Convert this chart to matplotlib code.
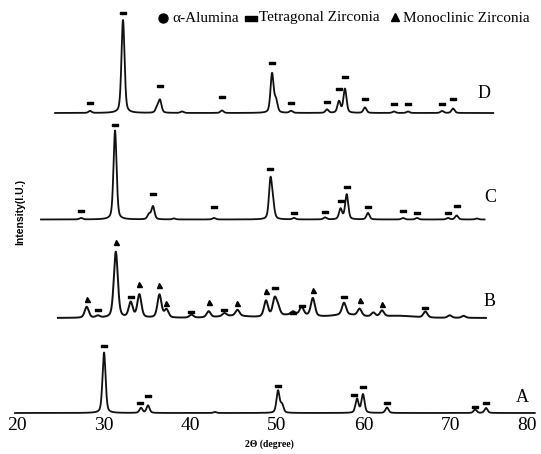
import numpy as np
import matplotlib.pyplot as plt
from matplotlib.path import Path

# XRD peak tables: 2-theta (degree) and height (a.u.)
# sample A
a_pos = [30.05, 34.32, 35.13, 42.86, 50.14, 50.6, 59.26, 59.95, 62.72, 72.9, 74.16]
a_h = [60.5, 5, 7.5, 1, 22, 8, 14, 18.5, 5.5, 3.5, 5]
a_range = [19.77, 79.8]
# sample B
b_pos = [28.05, 29.33, 31.41, 33.13, 34.13, 36.45, 37.26, 40.14, 42.13, 43.95, 45.46,
         48.75, 49.75, 50.14, 51.87, 52.87, 54.16, 57.76, 59.56, 61.15, 62.15, 67.16,
         69.97, 71.57]
b_h = [11, 2, 66, 15, 23, 23, 8, 3, 6, 3, 6, 16, 17, 8, 3, 8, 18, 12, 7, 4, 6, 6, 2.5, 2]
b_back_pos = [45, 52, 58, 64]
b_back_h = [2, 3, 3, 2]
b_range = [24.73, 74.16]
# sample C
c_pos = [27.39, 31.32, 35.24, 35.7, 38.13, 42.75, 49.27, 49.56, 51.99, 55.57, 57.36,
         58.07, 60.53, 64.57, 66.19, 69.77, 70.76, 73.1]
c_h = [1.5, 89, 5, 13, 1, 1.5, 39, 12, 1.5, 2, 10.5, 25, 6.5, 1.5, 1.5, 1.5, 4, 1]
c_range = [22.77, 74.0]
# sample D
d_pos = [28.43, 32.24, 36.17, 36.51, 39.05, 43.67, 49.45, 49.9, 51.64, 55.8, 57.18,
         57.87, 60.18, 63.53, 65.15, 69.08, 70.35]
d_h = [2, 93, 5, 12.5, 1.5, 2.5, 39, 12, 2, 3.5, 11.5, 24, 5.5, 1.5, 1.5, 2, 4.5]
d_range = [24.4, 75.0]

# phase markers: position, height above baseline
a_tet_x = [30.05, 34.2, 35.13, 50.14, 58.9, 59.95, 62.72, 72.9, 74.16]
a_tet_y = [67.5, 10.5, 17.5, 27.5, 18.5, 26.5, 10.5, 6.5, 10.5]
b_tet_x = [29.33, 33.13, 40.14, 43.95, 49.75, 51.87, 52.87, 57.76, 67.16]
b_tet_y = [8, 21, 6, 8, 30, 5, 12, 21, 10]
b_mono_x = [28.05, 31.41, 34.13, 36.45, 37.26, 42.13, 45.46, 48.75, 54.16, 59.56, 62.15]
b_mono_y = [19, 76, 34, 33, 15, 16, 15, 27, 28, 18, 14]
c_tet_x = [27.39, 31.32, 35.7, 42.75, 49.27, 51.99, 55.57, 57.36, 58.07, 60.53, 64.57,
           66.19, 69.77, 70.76]
c_tet_y = [8.5, 94.5, 25.5, 12.5, 50.5, 6.5, 7.5, 18.5, 32.5, 12.5, 8.5, 6.5, 6.5, 13.5]
d_tet_x = [28.43, 32.24, 36.51, 43.67, 49.45, 51.64, 55.8, 57.18, 57.87, 60.18, 63.53,
           65.15, 69.08, 70.35]
d_tet_y = [10, 100, 27, 16, 50, 10, 11, 24, 36, 14, 9, 9, 9, 14]

offsets = [0, 95, 193.5, 300]
labels = ["A", "B", "C", "D"]
label_x = [78.3, 74.6, 74.6, 73.9]
label_y = [16, 112, 215, 319]
ticks = [20, 30, 40, 50, 60, 70, 80]


def profile(x, pos, h, w):
    y = np.zeros_like(x)
    for p, hh in zip(pos, h):
        g = np.exp(-4 * np.log(2) * ((x - p) / w) ** 2)
        l = 1 / (1 + 4 * ((x - p) / w) ** 2)
        y += hh * (0.6 * g + 0.4 * l)
    return y


fig = plt.figure(figsize=(5.41, 4.54), dpi=100)
ax = fig.add_axes([17 / 541, 41 / 454, 519.6 / 541, 413 / 454])
ax.set_xlim(20, 80)
ax.set_ylim(0, 413)

dash = Path([(-1, -0.45), (1, -0.45), (1, 0.45), (-1, 0.45), (-1, -0.45)],
            [Path.MOVETO, Path.LINETO, Path.LINETO, Path.LINETO, Path.CLOSEPOLY])

traces = [(a_pos, a_h, a_range, 0.42), (b_pos, b_h, b_range, 0.55),
          (c_pos, c_h, c_range, 0.42), (d_pos, d_h, d_range, 0.42)]
for i, (pos, h, rng, w) in enumerate(traces):
    x = np.arange(rng[0], rng[1], 0.01)
    y = profile(x, pos, h, w)
    if i == 1:
        y += profile(x, b_back_pos, b_back_h, 4.0)
    ax.plot(x, y + offsets[i], color="#111111", lw=1.3 if i != 1 else 1.4, clip_on=False)
    ax.text(label_x[i], label_y[i], labels[i], fontsize=13, family="Liberation Serif",
            ha="center", va="center")

for mx, my, off in [(a_tet_x, a_tet_y, 0), (b_tet_x, b_tet_y, 95),
                    (c_tet_x, c_tet_y, 193.5), (d_tet_x, d_tet_y, 300)]:
    ax.plot(mx, np.array(my) + off, ls="none", marker=dash, ms=4.5, color="black",
            clip_on=False)
ax.plot(b_mono_x, np.array(b_mono_y) + 95, ls="none", marker="^", ms=3.6, color="black",
        clip_on=False)

ax.set_xticks(ticks)
ax.set_xticklabels([str(t) for t in ticks], fontsize=14, family="Liberation Serif")
ax.get_xticklabels()[-1].set_ha("right")
ax.tick_params(axis="x", length=0, pad=3)
ax.set_yticks([])
for s in ax.spines.values():
    s.set_visible(False)

fig.text(269 / 541, 1 - 444 / 454, "2\u0398 (degree)", fontsize=7, weight="bold",
         family="Liberation Serif", ha="center", va="center")
fig.text(20 / 541, 1 - 212 / 454, "Intensity(I.U.)", fontsize=7.5, weight="bold",
         family="Liberation Sans", rotation=90, ha="center", va="center")

# legend row at the top
ly = 1 - 18 / 454
fig.lines.append(plt.Line2D([163 / 541], [ly], transform=fig.transFigure, marker="o",
                            ms=6.5, color="black", ls="none"))
fig.lines.append(plt.Line2D([251 / 541], [ly], transform=fig.transFigure, marker=dash,
                            ms=8, color="black", ls="none"))
fig.lines.append(plt.Line2D([395 / 541], [ly + 0.002], transform=fig.transFigure,
                            marker="^", ms=6, color="black", ls="none"))
fig.text(172 / 541, ly, "\u03b1-Alumina", fontsize=11, family="Liberation Serif", va="center")
fig.text(259 / 541, ly, "Tetragonal Zirconia", fontsize=11, family="Liberation Serif",
         va="center")
fig.text(403 / 541, ly, "Monoclinic Zirconia", fontsize=11, family="Liberation Serif",
         va="center")

fig.savefig("out.png", dpi=100)
